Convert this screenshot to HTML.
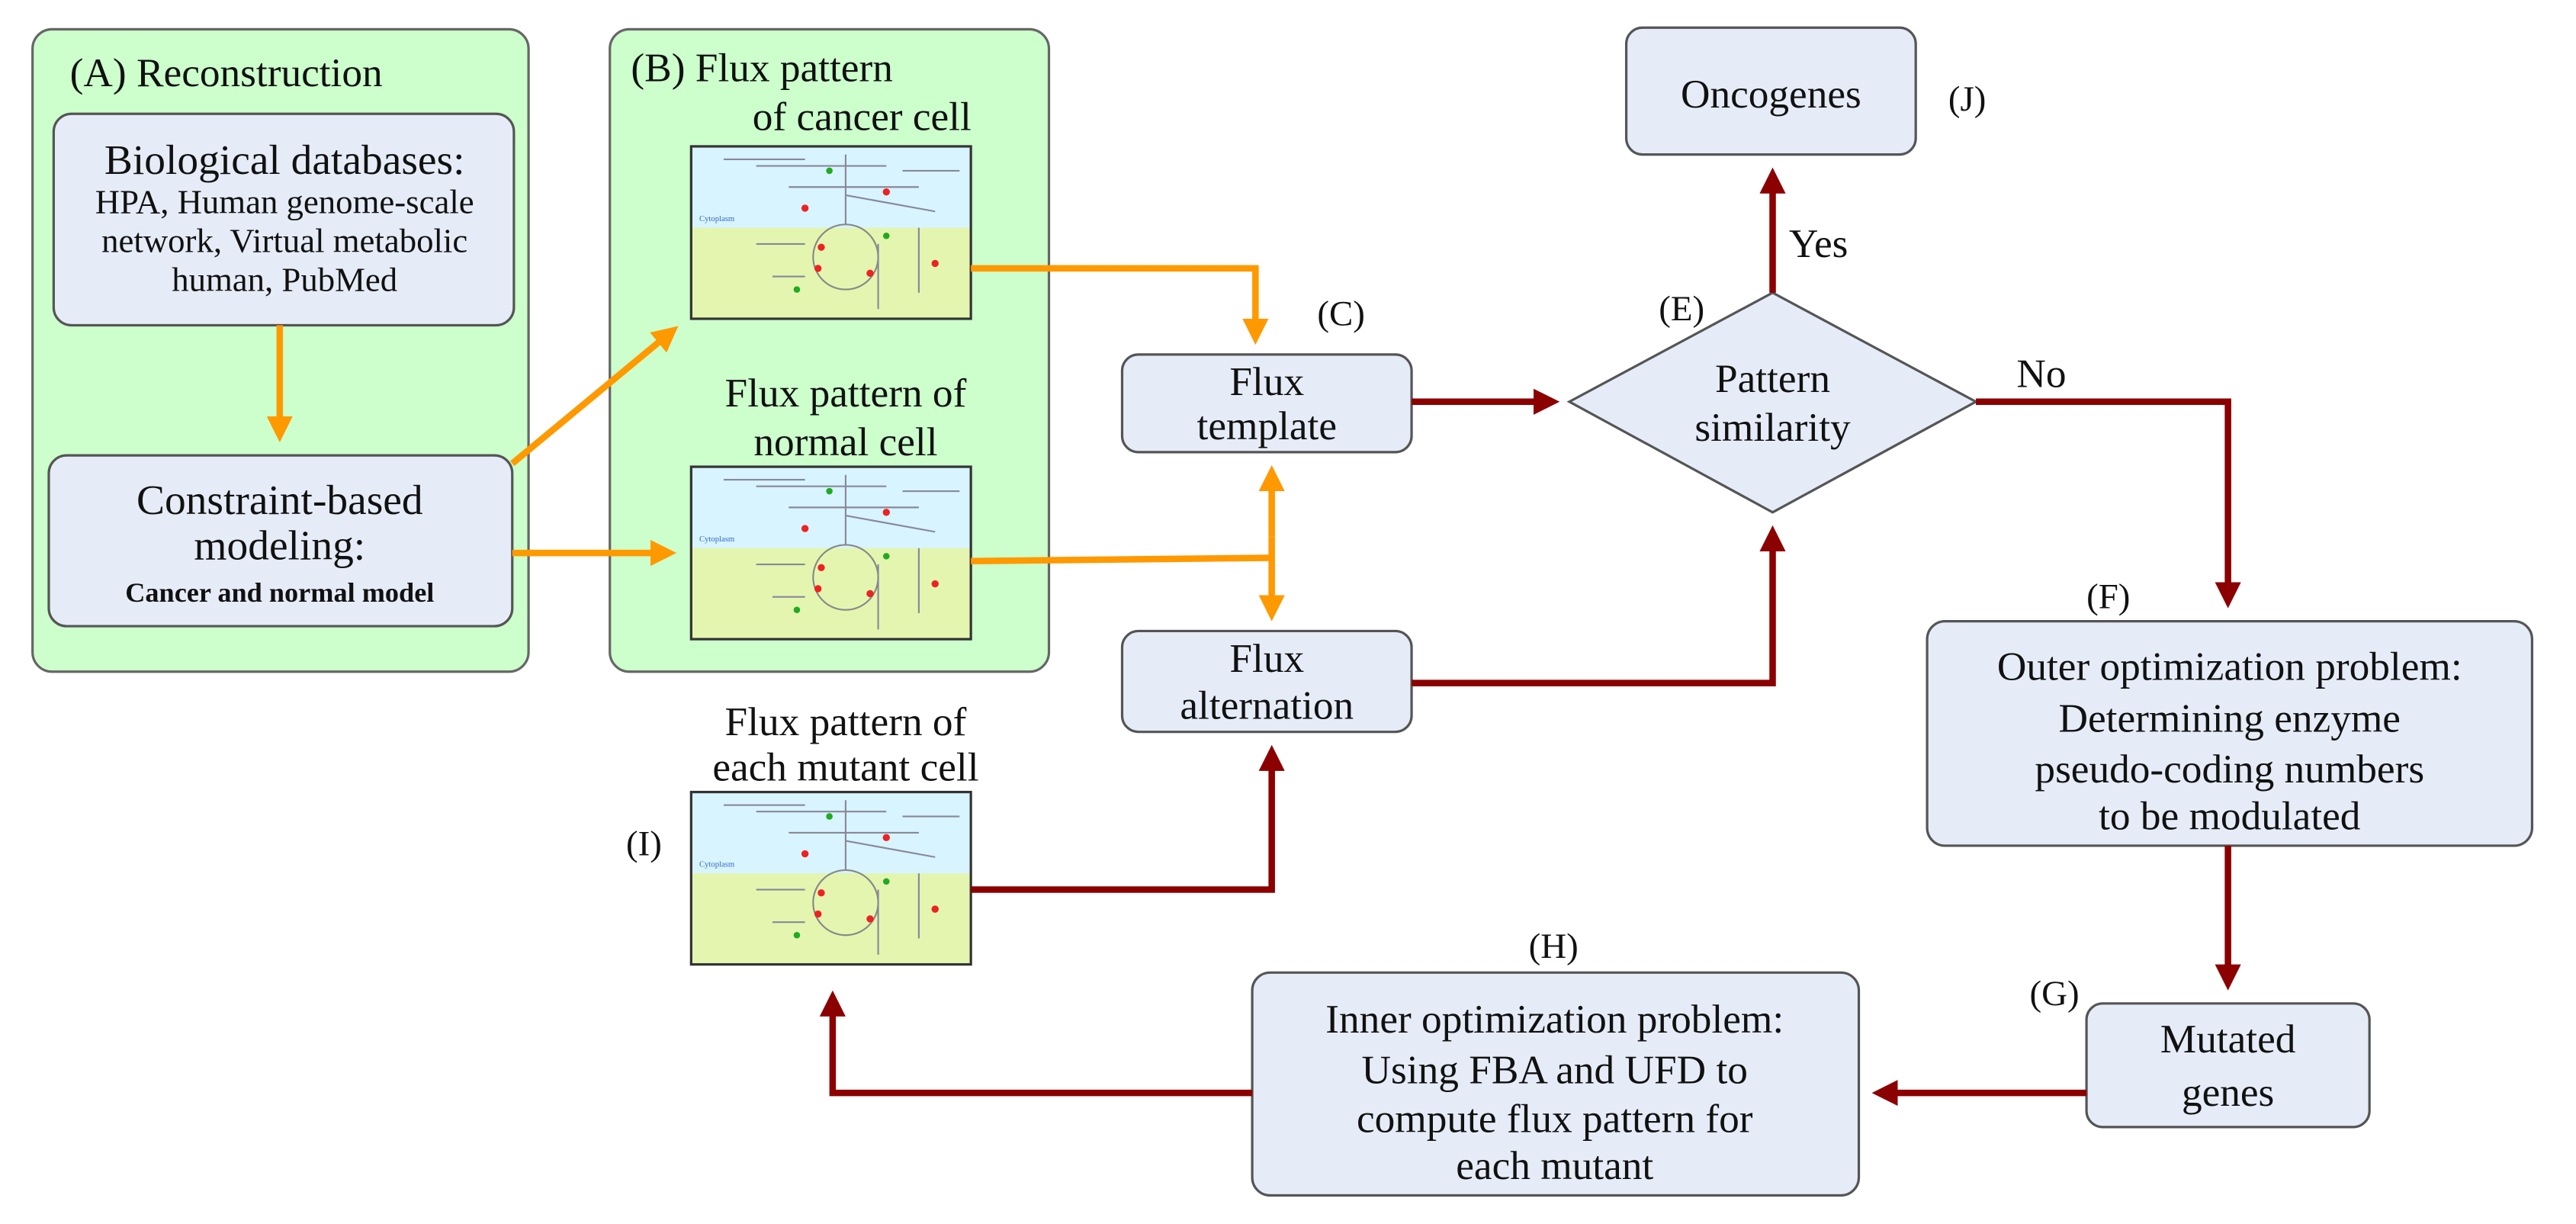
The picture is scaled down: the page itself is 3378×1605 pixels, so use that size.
<!DOCTYPE html>
<html><head><meta charset="utf-8"><style>
html,body{margin:0;padding:0;background:#fff}
svg{display:block}
svg text{font-family:"Liberation Serif","DejaVu Serif",serif !important;fill:#111}
</style></head><body>
<svg width="3378" height="1605" viewBox="0 0 1584 752.6" preserveAspectRatio="none" xmlns="http://www.w3.org/2000/svg" font-family="Liberation Serif, DejaVu Serif, serif">
<defs>
<marker id="ao" markerWidth="4" markerHeight="4" refX="3" refY="2" orient="auto" markerUnits="strokeWidth"><path d="M0,0 L4,2 L0,4 z" fill="#ff9900"/></marker>
<marker id="ar" markerWidth="4" markerHeight="4" refX="3" refY="2" orient="auto" markerUnits="strokeWidth"><path d="M0,0 L4,2 L0,4 z" fill="#8b0000"/></marker>
<g id="cell">
<rect x="0" y="0" width="172" height="106" fill="#d8f4ff"/>
<rect x="0" y="50" width="172" height="56" fill="#e4f5b0"/>
<rect x="0" y="0" width="172" height="106" fill="none" stroke="#333" stroke-width="1.5"/>
<circle cx="95" cy="68" r="20" fill="none" stroke="#888" stroke-width="1"/>
<path d="M95,5 V48 M40,12 H120 M60,25 H140 M95,30 L150,40 M115,60 V100 M70,80 H50 M20,8 H70 M130,15 H165 M140,50 V90 M40,60 H70" stroke="#889" stroke-width="1" fill="none"/>
<circle cx="85" cy="15" r="2" fill="#2a2"/><circle cx="70" cy="38" r="2.2" fill="#e22"/><circle cx="120" cy="28" r="2.2" fill="#e22"/>
<circle cx="80" cy="62" r="2.2" fill="#e22"/><circle cx="78" cy="75" r="2.2" fill="#e22"/><circle cx="110" cy="78" r="2.2" fill="#e22"/>
<circle cx="150" cy="72" r="2.2" fill="#e22"/><circle cx="120" cy="55" r="2" fill="#2a2"/><circle cx="65" cy="88" r="2" fill="#2a2"/>
<text x="5" y="46" style="font-size:5px;fill:#36c">Cytoplasm</text>
</g>
</defs>

<rect x="20" y="18" width="305" height="395" rx="12" fill="#ccffcc" stroke="#666" stroke-width="1.5"/>
<text x="43" y="53" font-size="25">(A) Reconstruction</text>
<rect x="33" y="70" width="283" height="130" rx="11" fill="#e6ecf7" stroke="#555" stroke-width="1.5"/>
<text x="175" y="107" text-anchor="middle" font-size="26">Biological databases:</text>
<text x="175" y="131" text-anchor="middle" font-size="21">HPA, Human genome-scale</text>
<text x="175" y="155" text-anchor="middle" font-size="21">network, Virtual metabolic</text>
<text x="175" y="179" text-anchor="middle" font-size="21">human, PubMed</text>
<rect x="30" y="280" width="285" height="105" rx="11" fill="#e6ecf7" stroke="#555" stroke-width="1.5"/>
<text x="172" y="316" text-anchor="middle" font-size="26">Constraint-based</text>
<text x="172" y="344" text-anchor="middle" font-size="26">modeling:</text>
<text x="172" y="370" text-anchor="middle" font-size="17" font-weight="bold">Cancer and normal model</text>
<line x1="172" y1="200" x2="172" y2="268" stroke="#ff9900" stroke-width="4" marker-end="url(#ao)"/>

<rect x="375" y="18" width="270" height="395" rx="12" fill="#ccffcc" stroke="#666" stroke-width="1.5"/>
<text x="388" y="50" font-size="25">(B) Flux pattern</text>
<text x="530" y="80" text-anchor="middle" font-size="25">of cancer cell</text>
<use href="#cell" x="425" y="90"/>
<text x="520" y="250" text-anchor="middle" font-size="25">Flux pattern of</text>
<text x="520" y="280" text-anchor="middle" font-size="25">normal cell</text>
<use href="#cell" x="425" y="287"/>

<line x1="315" y1="285" x2="414" y2="203" stroke="#ff9900" stroke-width="4" marker-end="url(#ao)"/>
<line x1="315" y1="340" x2="412" y2="340" stroke="#ff9900" stroke-width="4" marker-end="url(#ao)"/>
<polyline points="597,165 772,165 772,208" fill="none" stroke="#ff9900" stroke-width="4" marker-end="url(#ao)"/>
<line x1="597" y1="345" x2="782" y2="343" stroke="#ff9900" stroke-width="4"/>
<line x1="782" y1="330" x2="782" y2="290" stroke="#ff9900" stroke-width="4" marker-end="url(#ao)"/>
<line x1="782" y1="330" x2="782" y2="378" stroke="#ff9900" stroke-width="4" marker-end="url(#ao)"/>

<text x="810" y="200" font-size="22">(C)</text>
<rect x="690" y="218" width="178" height="60" rx="10" fill="#e6ecf7" stroke="#555" stroke-width="1.5"/>
<text x="779" y="243" text-anchor="middle" font-size="25">Flux</text>
<text x="779" y="270" text-anchor="middle" font-size="25">template</text>
<text x="835" y="408" font-size="22">(D)</text>
<rect x="690" y="388" width="178" height="62" rx="10" fill="#e6ecf7" stroke="#555" stroke-width="1.5"/>
<text x="779" y="413" text-anchor="middle" font-size="25">Flux</text>
<text x="779" y="442" text-anchor="middle" font-size="25">alternation</text>

<text x="1020" y="197" font-size="22">(E)</text>
<polygon points="965,247 1090,180 1215,247 1090,315" fill="#e6ecf7" stroke="#555" stroke-width="1.5"/>
<text x="1090" y="241" text-anchor="middle" font-size="25">Pattern</text>
<text x="1090" y="271" text-anchor="middle" font-size="25">similarity</text>
<line x1="868" y1="247" x2="955" y2="247" stroke="#8b0000" stroke-width="4" marker-end="url(#ar)"/>
<polyline points="868,420 1090,420 1090,327" fill="none" stroke="#8b0000" stroke-width="4" marker-end="url(#ar)"/>

<rect x="1000" y="17" width="178" height="78" rx="10" fill="#e6ecf7" stroke="#555" stroke-width="1.5"/>
<text x="1089" y="66" text-anchor="middle" font-size="25">Oncogenes</text>
<text x="1198" y="68" font-size="22">(J)</text>
<line x1="1090" y1="180" x2="1090" y2="107" stroke="#8b0000" stroke-width="4" marker-end="url(#ar)"/>
<text x="1100" y="158" font-size="25">Yes</text>

<text x="1240" y="238" font-size="25">No</text>
<polyline points="1215,247 1370,247 1370,370" fill="none" stroke="#8b0000" stroke-width="4" marker-end="url(#ar)"/>
<text x="1283" y="374" font-size="22">(F)</text>
<rect x="1185" y="382" width="372" height="138" rx="11" fill="#e6ecf7" stroke="#555" stroke-width="1.5"/>
<text x="1371" y="418" text-anchor="middle" font-size="25">Outer optimization problem:</text>
<text x="1371" y="450" text-anchor="middle" font-size="25">Determining enzyme</text>
<text x="1371" y="481" text-anchor="middle" font-size="25">pseudo-coding numbers</text>
<text x="1371" y="510" text-anchor="middle" font-size="25">to be modulated</text>
<line x1="1370" y1="520" x2="1370" y2="605" stroke="#8b0000" stroke-width="4" marker-end="url(#ar)"/>

<text x="1248" y="618" font-size="22">(G)</text>
<rect x="1283" y="617" width="174" height="76" rx="10" fill="#e6ecf7" stroke="#555" stroke-width="1.5"/>
<text x="1370" y="647" text-anchor="middle" font-size="25">Mutated</text>
<text x="1370" y="680" text-anchor="middle" font-size="25">genes</text>
<line x1="1283" y1="672" x2="1155" y2="672" stroke="#8b0000" stroke-width="4" marker-end="url(#ar)"/>

<text x="940" y="589" font-size="22">(H)</text>
<rect x="770" y="598" width="373" height="137" rx="11" fill="#e6ecf7" stroke="#555" stroke-width="1.5"/>
<text x="956" y="635" text-anchor="middle" font-size="25">Inner optimization problem:</text>
<text x="956" y="666" text-anchor="middle" font-size="25">Using FBA and UFD to</text>
<text x="956" y="696" text-anchor="middle" font-size="25">compute flux pattern for</text>
<text x="956" y="725" text-anchor="middle" font-size="25">each mutant</text>
<polyline points="770,672 512,672 512,613" fill="none" stroke="#8b0000" stroke-width="4" marker-end="url(#ar)"/>

<text x="520" y="452" text-anchor="middle" font-size="25">Flux pattern of</text>
<text x="520" y="480" text-anchor="middle" font-size="25">each mutant cell</text>
<text x="385" y="526" font-size="22">(I)</text>
<use href="#cell" x="425" y="487"/>
<polyline points="597,547 782,547 782,462" fill="none" stroke="#8b0000" stroke-width="4" marker-end="url(#ar)"/>
</svg>
</body></html>
